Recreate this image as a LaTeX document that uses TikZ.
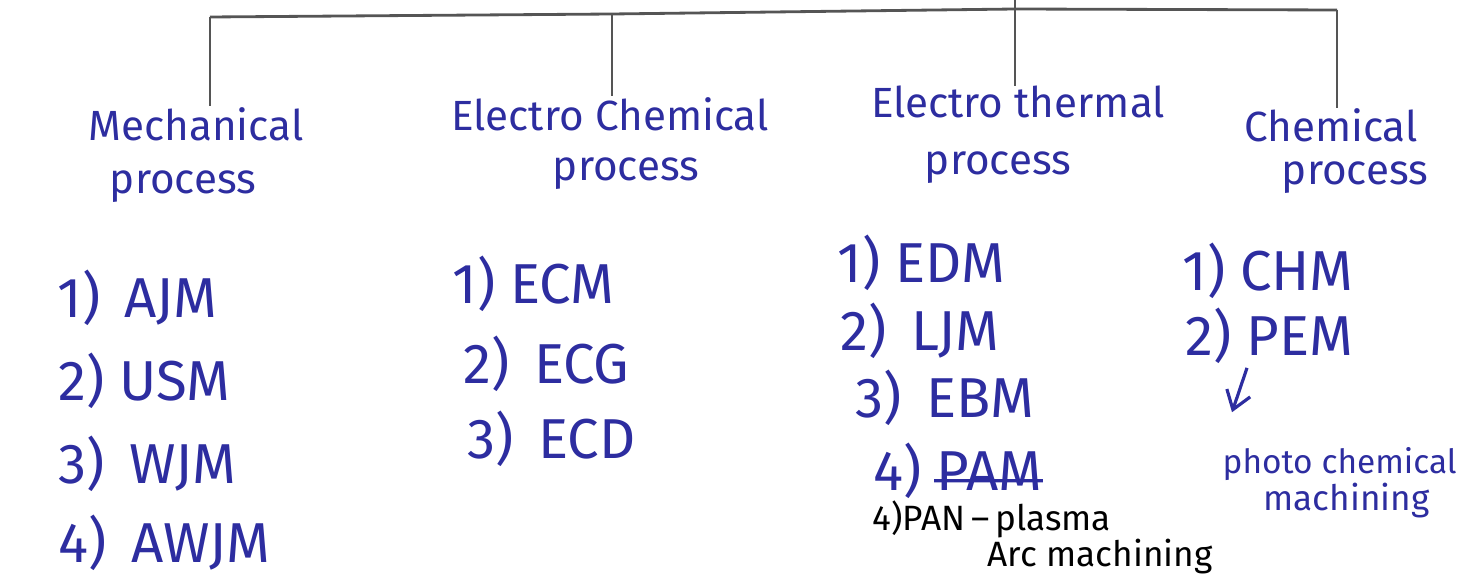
\documentclass[tikz,border=0pt]{standalone}
\usepackage{fontspec}
\setmainfont{Fira Sans}
\usepackage{xcolor}
\definecolor{inkblue}{RGB}{45,45,160}
\definecolor{penline}{RGB}{85,85,85}
\usetikzlibrary{arrows.meta,positioning,calc}

\begin{document}
\begin{tikzpicture}[x=0.01cm, y=-0.01cm,
    head/.style={inner sep=0pt, anchor=base, text=inkblue,
                 font=\fontsize{12}{14}\selectfont},
    item/.style={inner sep=0pt, anchor=base west, text=inkblue,
                 font=\fontsize{16}{18}\selectfont},
    note/.style={inner sep=0pt, anchor=base west, font=\fontsize{10}{12}\selectfont},
    tree/.style={penline, line width=0.8pt},
    arr/.style={-{Straight Barb[length=5pt,width=7pt]}, inkblue, line width=0.9pt},
  ]
    \useasboundingbox (0,0) rectangle (1473,576);

    % the four kinds of process
    \node[head] (mech)    at (196,140)  {Mechanical};
    \node[head] (mechp)   at (183,193)  {process};
    \node[head] (echem)   at (610,130)  {Electro Chemical};
    \node[head] (echemp)  at (626,180)  {process};
    \node[head] (etherm)  at (1018,118) {Electro thermal};
    \node[head] (ethermp) at (998,175)  {process};
    \node[head] (chem)    at (1331,142) {Chemical};
    \node[head] (chemp)   at (1355,185) {process};

    % tree lines
    \coordinate (root) at (1015,0);
    \coordinate (b1) at (210,17);
    \coordinate (b2) at (612,14);
    \coordinate (b3) at (1015,9);
    \coordinate (b4) at (1337,10);
    \draw[tree] (root) -- (b3);
    \draw[tree] (b1) -- (b2) -- (b3) -- (b4);
    \draw[tree] (b1) -- (b1 |- mech.north);
    \draw[tree] (b2) -- (b2 |- echem.north);
    \draw[tree] (b3) -- (b3 |- etherm.north);
    \draw[tree] (b4) -- (b4 |- chem.north);

    % mechanical
    \node[item] (a1) at (57,317) {1)\, AJM};
    \node[item] (a2) at (58,400) {2) USM};
    \node[item] (a3) at (58,483) {3)\, WJM};
    \node[item] (a4) at (58,562) {4)\, AWJM};

    % electro chemical
    \node[item] (c1) at (452,303) {1) ECM};
    \node[item] (c2) at (463,383) {2)\, ECG};
    \node[item] (c3) at (467,458) {3)\, ECD};

    % electro thermal
    \node[item] (t1) at (837,282) {1) EDM};
    \node[item] (t2) at (840,350) {2)\, LJM};
    \node[item] (t3) at (855,417) {3)\, EBM};
    \node[item] (t4) at (873,490) {4) PAM};
    \draw[inkblue, line width=0.9pt] ($(t4.mid west)!0.36!(t4.mid east)$) -- (t4.mid east);
    \node[note] (t5) at (872,530) {4)PAN\,--\,plasma};
    \node[note] (t6) at (987,566) {Arc machining};

    % chemical
    \node[item] (h1) at (1182,290) {1) CHM};
    \node[item] (h2) at (1185,355) {2) PEM};
    \node[note, text=inkblue, font=\fontsize{9.5}{11}\selectfont] (photo) at (1222,473) {photo chemical};
    \node[note, text=inkblue] (mach)  at (1263,510) {machining};
    \draw[arr] ($(h2.south west)+(62,4)$) -- ($(photo.north west)+(10,-34)$);
  \end{tikzpicture}
\end{document}
